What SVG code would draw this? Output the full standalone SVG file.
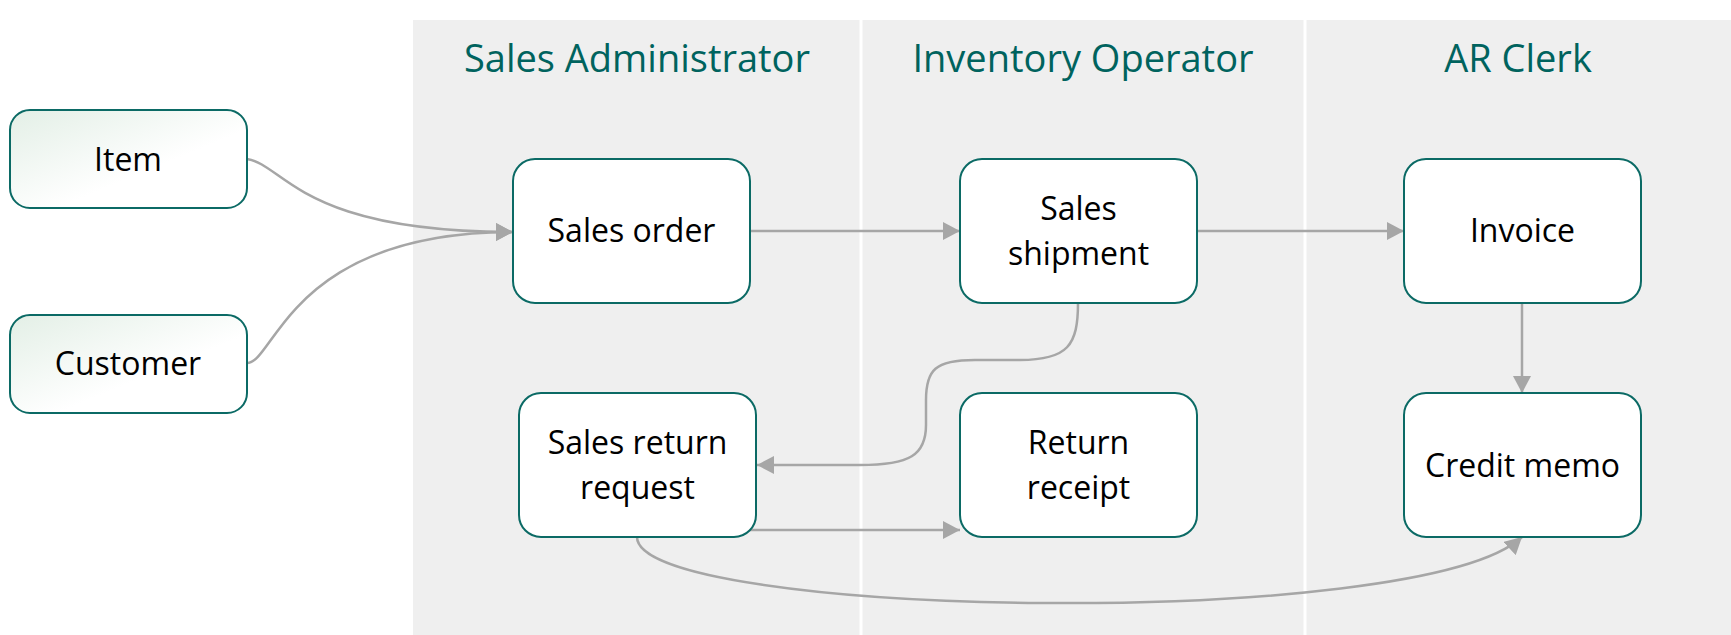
<svg xmlns="http://www.w3.org/2000/svg" width="1731" height="635" viewBox="0 0 1731 635">
<style>
.lane{fill:#efefef}
.div{stroke:#ffffff;stroke-width:3}
.hdr{font-family:"Open Sans","Liberation Sans",sans-serif;font-size:38px;fill:#00635e;text-anchor:middle}
.box{fill:#ffffff;stroke:#0b6a65;stroke-width:2}
.ext{fill:url(#g);stroke:#0b6a65;stroke-width:2}
.lbl{font-family:"Open Sans","Liberation Sans",sans-serif;font-size:32px;fill:#000000;text-anchor:middle}
.con{fill:none;stroke:#a6a6a6;stroke-width:2.5}
</style>
<defs>
<linearGradient id="g" x1="0" y1="0" x2="1" y2="1">
<stop offset="0" stop-color="#e3efe6"/>
<stop offset="0.6" stop-color="#ffffff"/>
</linearGradient>
<marker id="ah" markerUnits="userSpaceOnUse" markerWidth="18" markerHeight="18" refX="17" refY="9" orient="auto">
<path d="M0,0 L17,9 L0,18 z" fill="#a6a6a6"/>
</marker>
</defs>
<g id="lanes">
<rect class="lane" x="413" y="20" width="1318" height="615"/>
<line class="div" x1="861" y1="20" x2="861" y2="635"/>
<line class="div" x1="1305" y1="20" x2="1305" y2="635"/>
<text class="hdr" x="637" y="72">Sales Administrator</text>
<text class="hdr" x="1083" y="72">Inventory Operator</text>
<text class="hdr" x="1518" y="72">AR Clerk</text>
</g>
<g id="connectors">
<path class="con" d="M247,159 C285,165 300,232 513,232" marker-end="url(#ah)"/>
<path class="con" d="M247,363 C275,363 290,232 513,232" marker-end="url(#ah)"/>
<path class="con" d="M750,231 L960,231" marker-end="url(#ah)"/>
<path class="con" d="M1197,231 L1404,231" marker-end="url(#ah)"/>
<path class="con" d="M1522,303 L1522,393" marker-end="url(#ah)"/>
<path class="con" d="M1078,303 C1078,345 1068,360 1020,360 L975,360 C935,360 926,370 926,400 L926,425 C926,455 910,465 860,465 L757,465" marker-end="url(#ah)"/>
<path class="con" d="M750,530 L960,530" marker-end="url(#ah)"/>
<path class="con" d="M637,537 C637,618 1420,632 1522,537" marker-end="url(#ah)"/>
</g>
<g id="item">
<rect class="ext" x="10" y="110" width="237" height="98" rx="20"/>
<text class="lbl" x="128" y="171">Item</text>
</g>
<g id="customer">
<rect class="ext" x="10" y="315" width="237" height="98" rx="20"/>
<text class="lbl" x="128" y="375">Customer</text>
</g>
<g id="sales-order">
<rect class="box" x="513" y="159" width="237" height="144" rx="22"/>
<text class="lbl" x="631.5" y="242">Sales order</text>
</g>
<g id="sales-shipment">
<rect class="box" x="960" y="159" width="237" height="144" rx="22"/>
<text class="lbl" x="1078.5" y="220">Sales</text>
<text class="lbl" x="1078.5" y="265">shipment</text>
</g>
<g id="invoice">
<rect class="box" x="1404" y="159" width="237" height="144" rx="22"/>
<text class="lbl" x="1522.5" y="242">Invoice</text>
</g>
<g id="sales-return-request">
<rect class="box" x="519" y="393" width="237" height="144" rx="22"/>
<text class="lbl" x="637.5" y="454">Sales return</text>
<text class="lbl" x="637.5" y="499">request</text>
</g>
<g id="return-receipt">
<rect class="box" x="960" y="393" width="237" height="144" rx="22"/>
<text class="lbl" x="1078.5" y="454">Return</text>
<text class="lbl" x="1078.5" y="499">receipt</text>
</g>
<g id="credit-memo">
<rect class="box" x="1404" y="393" width="237" height="144" rx="22"/>
<text class="lbl" x="1522.5" y="477">Credit memo</text>
</g>
</svg>
